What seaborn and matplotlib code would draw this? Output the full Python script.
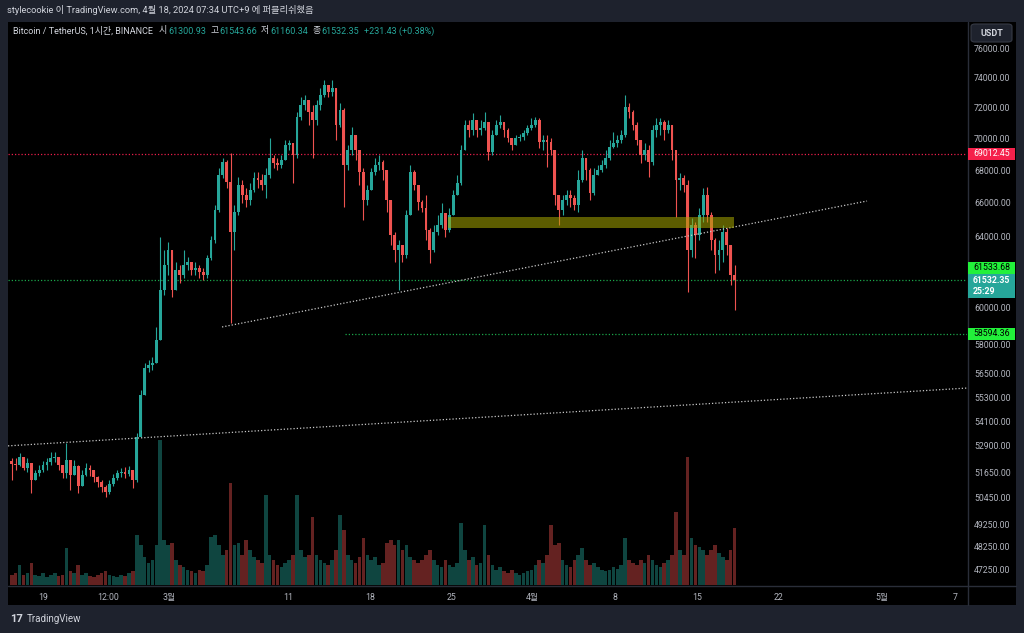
import numpy as np
import pandas as pd
import matplotlib
matplotlib.use("Agg")
import matplotlib.pyplot as plt
import seaborn as sns
from matplotlib.patches import Rectangle, FancyBboxPatch
from matplotlib.lines import Line2D
from matplotlib.ticker import NullLocator

# BTC/USDT, 8h candles (prices in USDT)
first_open = 52200
closes = [
    52040, 51990, 52370, 51850, 52080, 51280, 51610, 51750, 51990, 52130,
    52320, 52370, 51990, 51610, 52230, 51520, 51940, 51000, 51520, 51850,
    51750, 51420, 51190, 50960, 50730, 51100, 51380, 51610, 51660, 51560,
    51750, 51280, 53330, 55410, 56790, 56940, 57050, 58260, 60970, 62370,
    63230, 60970, 62090, 61810, 62370, 62540, 62090, 62200, 61980, 61810,
    62770, 63810, 65580, 67700, 68500, 67270, 64270, 65460, 67090, 66480,
    66180, 66780, 67510, 67390, 67090, 67700, 68750, 68440, 68320, 68630,
    69570, 69700, 68940, 71370, 72160, 72480, 71700, 71180, 72160, 72820,
    73480, 73010, 73280, 70850, 71830, 68320, 69260, 70210, 69260, 67880,
    66180, 66780, 67880, 68320, 68500, 68010, 66180, 64100, 63230, 63520,
    62940, 65280, 67880, 67090, 66060, 65690, 64390, 63230, 64270, 64690,
    65400, 64390, 65280, 66480, 67210, 69260, 70850, 70530, 71180, 70530,
    70660, 71050, 69130, 70210, 70850, 71050, 70530, 70020, 69570, 70020,
    70080, 70340, 70660, 70850, 71180, 69760, 69890, 69760, 69260, 66480,
    65580, 66180, 66480, 66300, 65870, 67390, 68750, 68010, 66600, 67700,
    68010, 68320, 68750, 69450, 69700, 69890, 70210, 72020, 71700, 70850,
    69890, 68940, 69260, 68500, 70530, 70850, 71050, 70530, 70850, 69260,
    67390, 67510, 67090, 63230, 64690, 64100, 65280, 66480, 65280, 63810,
    62940, 63230, 64270, 63520, 61810, 61532.35,
]
highs = [
    52320, 52320, 52560, 52370, 52320, 52080, 51750, 51990, 52180, 52320,
    52610, 52610, 52320, 51990, 53040, 52130, 52230, 51990, 51750, 52080,
    51990, 51750, 51470, 51280, 51050, 51280, 51560, 51750, 51850, 51900,
    51940, 51750, 53520, 55660, 57050, 57200, 57360, 58950, 64000, 63230,
    63690, 62940, 62540, 62370, 63230, 62830, 62490, 62540, 62370, 62200,
    62940, 64040, 65870, 68130, 68750, 68630, 69070, 65870, 67580, 67390,
    66900, 67210, 67880, 67880, 67760, 68130, 70020, 68940, 68750, 68940,
    69890, 69890, 69570, 71700, 72680, 72820, 72480, 72160, 72480, 73280,
    73820, 73480, 73820, 73150, 72290, 71960, 69570, 70720, 69890, 68320,
    68130, 67090, 68130, 68750, 68940, 68630, 68010, 66180, 64270, 63810,
    63520, 65580, 68320, 68010, 67090, 66180, 66480, 64510, 64690, 65280,
    66000, 64980, 65690, 66780, 67700, 69570, 71180, 71180, 71630, 71050,
    71180, 71700, 70850, 70530, 71180, 71500, 71050, 70660, 70020, 70210,
    70270, 70530, 70850, 71310, 71370, 71310, 70210, 70210, 70020, 69260,
    66300, 66480, 66780, 66780, 66480, 68010, 69260, 68630, 68130, 68130,
    68320, 68630, 69260, 69890, 70400, 70210, 70530, 72820, 72290, 71830,
    71050, 69570, 69700, 69570, 70850, 71310, 71310, 71180, 71180, 70850,
    69260, 67820, 67700, 67390, 65100, 64860, 65690, 66900, 66960, 65460,
    63920, 63810, 64690, 64510, 63520, 62370,
]
lows = [
    51280, 51750, 51940, 51750, 51660, 50680, 51280, 51470, 51660, 51750,
    51990, 52130, 51750, 51380, 51380, 50820, 51520, 50680, 51190, 51470,
    51470, 51190, 50960, 50730, 50500, 50630, 51000, 51280, 51420, 51380,
    51470, 50910, 51190, 53330, 55410, 56580, 56690, 57200, 58680, 60690,
    61810, 60580, 60970, 61360, 61640, 62090, 61810, 61810, 61640, 61530,
    61640, 62660, 63640, 65460, 67510, 66900, 59160, 63230, 65280, 66000,
    65750, 65870, 66660, 66900, 66780, 66300, 67510, 68130, 68010, 68130,
    68630, 69260, 67210, 68750, 71180, 71830, 70850, 68750, 70850, 71830,
    72680, 72680, 72750, 69890, 70720, 65750, 68010, 68940, 68630, 67090,
    64980, 65870, 66780, 67700, 68010, 67390, 65460, 63520, 62540, 60970,
    62540, 62770, 65280, 66780, 65580, 65460, 63810, 62490, 63120, 64100,
    64510, 63980, 64270, 65280, 66480, 67090, 69260, 70080, 70210, 70080,
    70210, 70530, 68630, 68940, 70210, 70660, 70080, 69760, 69260, 69570,
    69830, 69890, 70210, 70530, 70720, 69380, 69260, 68190, 68940, 65870,
    64690, 65280, 65870, 65750, 65580, 65460, 67270, 67390, 66180, 66480,
    67700, 67880, 68130, 68630, 69380, 69450, 69700, 70080, 71310, 70530,
    69570, 68440, 68630, 67580, 68320, 70080, 70210, 69890, 70340, 68630,
    65160, 66780, 66660, 60860, 62830, 62770, 63810, 64860, 64860, 63230,
    61920, 62090, 62540, 62940, 61250, 59870,
]
volumes = [
    10, 12, 20, 10, 12, 22, 10, 9, 12, 8,
    10, 12, 9, 10, 37, 14, 12, 20, 10, 12,
    9, 8, 10, 12, 14, 10, 9, 8, 10, 9,
    12, 14, 50, 40, 28, 22, 25, 40, 145, 45,
    40, 42, 25, 20, 18, 15, 14, 12, 15, 14,
    20, 48, 50, 40, 30, 35, 102, 40, 42, 30,
    45, 35, 28, 25, 22, 90, 30, 25, 20, 18,
    22, 25, 30, 90, 35, 28, 30, 68, 30, 25,
    22, 20, 25, 35, 70, 55, 30, 25, 22, 28,
    47, 30, 25, 28, 20, 22, 42, 45, 40, 45,
    35, 40, 28, 25, 22, 25, 30, 35, 25, 20,
    18, 25, 20, 18, 22, 62, 35, 25, 28, 20,
    22, 60, 30, 20, 15, 18, 14, 12, 15, 12,
    10, 12, 14, 15, 20, 25, 22, 30, 60, 40,
    42, 25, 20, 18, 25, 30, 37, 25, 20, 22,
    18, 15, 14, 15, 18, 16, 20, 47, 25, 22,
    20, 25, 22, 30, 25, 20, 18, 22, 25, 30,
    73, 35, 30, 128, 47, 40, 38, 35, 30, 35,
    40, 32, 28, 25, 35, 57,
]

last_ohlc = [61300.93, 61543.66, 61160.34, 61532.35]
last_change = 231.43
last_change_pct = 0.38
resistance = 69012.45
level_green = 61533.68
level_target = 58594.36
zone_low, zone_high = 64510, 65160
trend_short = [58950, 66115]
trend_long = [52900, 55760]

price_ticks = [76000, 74000, 72000, 70000, 68000, 66000, 64000, 60000, 58000,
               56500, 55300, 54100, 52900, 51650, 50450, 49250, 48250, 47250]
day_ticks = [-10.85, -5.3, -0.1, 10.05, 17.05, 24.0, 30.9, 37.95, 44.95, 51.9, 60.75, 66.95]
day_labels = ['19', '12:00', '3월', '11', '18', '25', '4월', '8', '15', '22', '5월', '7']

W, H = 1024, 633
BG = '#1e222d'
UP, DOWN = '#26a69a', '#ef5350'
AXTXT = '#b2b5be'
LIGHT = '#d1d4dc'
GREEN = '#22f03a'

sns.set_theme(style='dark', rc={'axes.facecolor': 'black', 'figure.facecolor': BG})
plt.rcParams['font.family'] = ['Roboto', 'Noto Sans CJK KR', 'DejaVu Sans']


def fx(px):
    return px / W


def fy(py):
    return 1 - py / H


# time in days from 2024-03-01 (chart local time)
times = pd.date_range('2024-02-16 12:00', periods=len(closes), freq='8h')
t = ((times - pd.Timestamp('2024-03-01')) / pd.Timedelta(days=1)).to_numpy()
xlim = (-13.823, 68.0)
ylim = (46605, 77821)

closes = np.array(closes, dtype=float)
opens = np.r_[first_open, closes[:-1]]
hi = np.maximum(np.array(highs, dtype=float), np.maximum(opens, closes))
lo = np.minimum(np.array(lows, dtype=float), np.minimum(opens, closes))
is_up = closes >= opens
colors = np.where(is_up, UP, DOWN)

fig = plt.figure(figsize=(W / 100, H / 100), dpi=100, facecolor=BG)
fig.add_artist(Rectangle((fx(8), fy(605)), fx(1016) - fx(8), fy(22) - fy(605),
                         transform=fig.transFigure, facecolor='black',
                         edgecolor='none', zorder=-1))

rect = [fx(8), fy(585), fx(967) - fx(8), fy(22) - fy(585)]
ax_vol = fig.add_axes(rect)
ax = fig.add_axes(rect)

# volume overlay at the bottom of the pane
vol_df = pd.DataFrame({'t': t, 'vol': volumes, 'dir': np.where(is_up, 'up', 'down')})
sns.barplot(data=vol_df, x='t', y='vol', hue='dir', palette={'up': UP, 'down': DOWN},
            native_scale=True, dodge=False, errorbar=None, saturation=1, alpha=0.42,
            width=0.92, legend=False, edgecolor='none', linewidth=0, ax=ax_vol)
ax_vol.set_xlim(xlim)
ax_vol.set_ylim(0, 563)
ax_vol.axis('off')

ax.patch.set_alpha(0)
ax.set_yscale('log')
ax.set_xlim(xlim)
ax.set_ylim(ylim)

# candles
ax.vlines(t, lo, hi, colors=colors, linewidth=0.8, zorder=3)
ax.bar(t, np.abs(closes - opens), bottom=np.minimum(opens, closes), width=0.24,
       color=colors, linewidth=0, zorder=4)

# drawings
dots = (0, (1, 1.6))
ax.axhline(resistance, color='#e91e4a', ls=dots, lw=0.9, zorder=2)
ax.axhline(level_green, color='#1aa64a', ls=dots, lw=0.9, zorder=2)
ax.hlines(level_target, 14.93, xlim[1], color='#1aa64a', ls=dots, lw=0.9, zorder=2)
ax.plot([4.44, 59.47], trend_short, color='#c8c8c8', ls=dots, lw=0.9, zorder=5)
ax.plot(list(xlim), trend_long, color='#c8c8c8', ls=dots, lw=0.9, zorder=5)
ax.add_patch(Rectangle((23.72, zone_low), 48.12 - 23.72, zone_high - zone_low,
                       facecolor='#a8a800', alpha=0.55, edgecolor='none', zorder=6))

# axes
ax.yaxis.tick_right()
ax.set_yticks(price_ticks)
ax.set_yticklabels([f'{v:.2f}' for v in price_ticks])
ax.yaxis.set_minor_locator(NullLocator())
ax.set_xticks(day_ticks)
ax.set_xticklabels(day_labels)
ax.tick_params(axis='y', length=0, pad=5, labelsize=6.3, labelcolor=AXTXT)
ax.tick_params(axis='x', length=0, pad=6, labelsize=6.3, labelcolor=AXTXT)
ax.grid(False)
for s in ax.spines.values():
    s.set_visible(False)

sep = '#2a2e39'
fig.add_artist(Line2D([fx(967.5)] * 2, [fy(22), fy(605)], color=sep, lw=1,
                      transform=fig.transFigure, zorder=5))
fig.add_artist(Line2D([fx(8), fx(1016)], [fy(585.5)] * 2, color=sep, lw=1,
                      transform=fig.transFigure, zorder=5))


def price_box(price_py, text, face, fg, h=12, weight='normal'):
    y0 = (H - price_py - h / 2) / H
    fig.add_artist(Rectangle((fx(968), y0), fx(1015) - fx(968), h / H,
                             transform=fig.transFigure, facecolor=face,
                             edgecolor='none', zorder=6))
    fig.text(fx(973), y0 + h / 2 / H, text, color=fg, fontsize=6.3, weight=weight,
             va='center', ha='left', zorder=7, linespacing=1.3)


def to_py(price):
    return H - ax.transData.transform((0, price))[1]


price_box(to_py(resistance), f'{resistance:.2f}', '#f5214b', 'white')
price_box(to_py(level_green) - 12, f'{level_green:.2f}', GREEN, 'black')
price_box(to_py(last_ohlc[3]) + 6, f'{last_ohlc[3]:.2f}\n25:29', UP, 'white', h=24,
          weight='bold')
price_box(to_py(level_target), f'{level_target:.2f}', GREEN, 'black')

fig.add_artist(FancyBboxPatch((fx(971), fy(42)), fx(1012) - fx(971), fy(24) - fy(42),
                              boxstyle='round,pad=0,rounding_size=0.004',
                              transform=fig.transFigure, facecolor='#1e222d',
                              edgecolor='#363a45', lw=0.8, zorder=8))
fig.text(fx(991.5), fy(33), 'USDT', color=LIGHT, fontsize=6.5, weight='bold',
         ha='center', va='center', zorder=9)

# header
fig.text(fx(7), fy(10), 'stylecookie 이 TradingView.com, 4월 18, 2024 07:34 UTC+9 에 퍼블리쉬했음',
         color=LIGHT, fontsize=6.7, va='center', ha='left')

# legend line: each piece follows the previous one, gap in pixels after it
o, h_, l_, c = last_ohlc
pieces = [
    ('Bitcoin / TetherUS, 1시간, BINANCE', LIGHT, 6),
    ('시', LIGHT, 1), (f'{o:.2f}', UP, 4),
    ('고', LIGHT, 1), (f'{h_:.2f}', UP, 4),
    ('저', LIGHT, 1), (f'{l_:.2f}', UP, 4),
    ('종', LIGHT, 1), (f'{c:.2f}', UP, 5),
    (f'+{last_change:.2f} (+{last_change_pct:.2f}%)', UP, 0),
]
renderer = fig.canvas.get_renderer()
cursor = 13
for txt, col, gap in pieces:
    tx = fig.text(fx(cursor), fy(31), txt, color=col, fontsize=6.45, va='center', ha='left')
    cursor += tx.get_window_extent(renderer).width + gap

# footer logo
fig.text(fx(10), fy(619), '17', color=LIGHT, fontsize=8, weight='bold', va='center')
fig.text(fx(27), fy(619), 'TradingView', color=LIGHT, fontsize=7, va='center')

fig.savefig('out.png', dpi=100, facecolor=BG)
